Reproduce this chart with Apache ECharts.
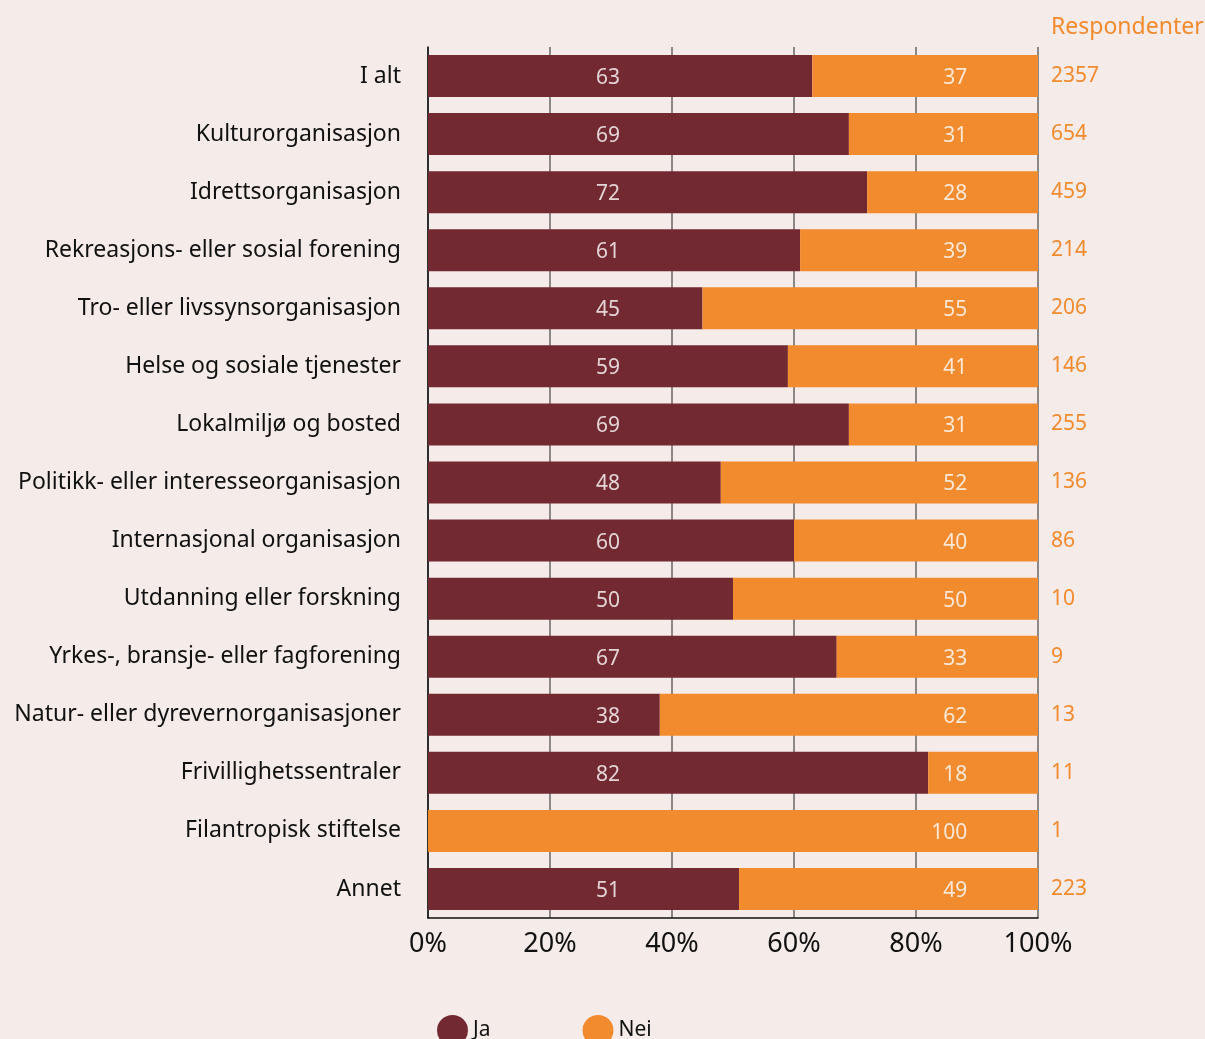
<!DOCTYPE html>
<html>
<head>
<meta charset="utf-8">
<script src="https://cdn.jsdelivr.net/npm/echarts@6/dist/echarts.min.js"></script>
<style>
  html, body { margin: 0; padding: 0; background: #f5ebe8; }
  #chart { width: 1205px; height: 1039px; }
</style>
</head>
<body>
<div id="chart"></div>
<script>
const categories = [
  "I alt",
  "Kulturorganisasjon",
  "Idrettsorganisasjon",
  "Rekreasjons- eller sosial forening",
  "Tro- eller livssynsorganisasjon",
  "Helse og sosiale tjenester",
  "Lokalmiljø og bosted",
  "Politikk- eller interesseorganisasjon",
  "Internasjonal organisasjon",
  "Utdanning eller forskning",
  "Yrkes-, bransje- eller fagforening",
  "Natur- eller dyrevernorganisasjoner",
  "Frivillighetssentraler",
  "Filantropisk stiftelse",
  "Annet"
];
const ja = [63, 69, 72, 61, 45, 59, 69, 48, 60, 50, 67, 38, 82, 0, 51];
const nei = [37, 31, 28, 39, 55, 41, 31, 52, 40, 50, 33, 62, 18, 100, 49];
const respondenter = [2357, 654, 459, 214, 206, 146, 255, 136, 86, 10, 9, 13, 11, 1, 223];
const xTicks = [0, 20, 40, 60, 80, 100];

// fixed label columns (in % along the axis)
const jaLabelX = 29.5;
const neiLabelX = 88.5;

const FONT = "'Noto Sans'";
const JA_COLOR = "#732932";
const NEI_COLOR = "#f28a2e";

const chart = echarts.init(document.getElementById("chart"));

const labelStyle = { color: "#ffffff", fontSize: 21, fontFamily: FONT };

chart.setOption({
  backgroundColor: "#f5ebe8",
  animation: false,
  textStyle: { fontFamily: FONT },
  grid: { left: 428, right: 167, top: 47, bottom: 121, containLabel: false },
  graphic: [
    {
      type: "text",
      left: 1051,
      top: 16,
      style: { text: "Respondenter", fill: NEI_COLOR, fontSize: 23, fontFamily: FONT }
    }
  ],
  legend: {
    data: ["Ja", "Nei"],
    left: 432,
    top: 1010,
    icon: "circle",
    itemWidth: 31,
    itemHeight: 31,
    itemGap: 92,
    textStyle: { fontSize: 21, color: "#111", fontFamily: FONT, padding: [8, 0, 0, 0] }
  },
  xAxis: {
    type: "value",
    min: 0,
    max: 100,
    interval: 20,
    axisLine: { show: true, lineStyle: { color: "#111", width: 1.5 } },
    axisTick: { show: false },
    splitLine: { show: true, lineStyle: { color: "#666", width: 1.5 } },
    axisLabel: {
      color: "#111",
      fontSize: 27,
      fontFamily: FONT,
      margin: 13,
      formatter: (v) => (xTicks.includes(v) ? v + "%" : "")
    }
  },
  yAxis: [
    {
      type: "category",
      inverse: true,
      data: categories,
      axisLine: { show: true, onZero: false, lineStyle: { color: "#111", width: 1.5 } },
      axisTick: { show: false },
      axisLabel: {
        color: "#111",
        fontSize: 23,
        fontFamily: FONT,
        margin: 27,
        padding: [0, 0, 13, 0]
      }
    },
    {
      type: "category",
      inverse: true,
      position: "right",
      data: respondenter.map(String),
      axisLine: { show: false },
      axisTick: { show: false },
      axisLabel: {
        color: NEI_COLOR,
        fontSize: 21,
        fontFamily: FONT,
        margin: 13,
        align: "left",
        padding: [0, 0, 3, 0]
      }
    }
  ],
  series: [
    {
      name: "Ja",
      type: "bar",
      stack: "total",
      barWidth: 42,
      itemStyle: { color: JA_COLOR },
      data: ja
    },
    {
      name: "Nei",
      type: "bar",
      stack: "total",
      barWidth: 42,
      itemStyle: { color: NEI_COLOR },
      data: nei
    },
    {
      name: "jaLabels",
      type: "scatter",
      symbolSize: 1,
      itemStyle: { color: "rgba(0,0,0,0)" },
      silent: true,
      data: ja.map((v, i) => (v > 0 ? [jaLabelX, i, v] : null)).filter(Boolean),
      label: {
        show: true,
        position: "inside",
        offset: [0, 2],
        ...labelStyle,
        formatter: (p) => String(p.value[2])
      }
    },
    {
      name: "neiLabels",
      type: "scatter",
      symbolSize: 1,
      itemStyle: { color: "rgba(0,0,0,0)" },
      silent: true,
      data: nei.map((v, i) => [neiLabelX, i, v]),
      label: {
        show: true,
        position: "left",
        distance: 0,
        offset: [0, 2],
        ...labelStyle,
        formatter: (p) => String(p.value[2])
      }
    }
  ]
});
</script>
</body>
</html>
